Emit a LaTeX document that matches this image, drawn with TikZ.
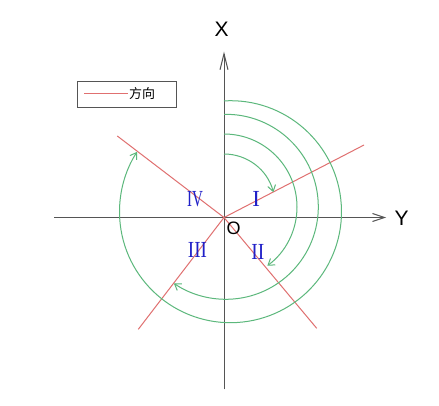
\documentclass[tikz,border=0pt]{standalone}
\usepackage{fontspec}
\usepackage{graphicx}
\setmainfont{Liberation Serif}
\setsansfont{Liberation Sans}
\newfontfamily\cjkfont{Noto Sans CJK SC}
\usetikzlibrary{arrows.meta}
\definecolor{axisgray}{HTML}{555555}
\definecolor{dirred}{HTML}{E07070}
\definecolor{arcgreen}{HTML}{5CB87C}
\definecolor{numblue}{HTML}{2020C8}
\begin{document}
\begin{tikzpicture}[x=1pt,y=1pt,
  axis/.style={draw=axisgray, line width=1pt},
  dirline/.style={draw=dirred, line width=1pt},
  turn/.style={draw=arcgreen, line width=1pt, -{Straight Barb[length=6pt,width=8pt,line width=1pt]}},
  numlabel/.style={text=numblue, inner sep=0pt, font=\fontsize{23}{23}\selectfont},
  axlabel/.style={inner sep=0pt, font=\sffamily\fontsize{21}{21}\selectfont}]
\fill[white] (0,0) rectangle (439,405);
\useasboundingbox (0,0) rectangle (439,405);

% axes
\coordinate (O) at (224,187.5);
\coordinate (xs) at (224,15.7);
\coordinate (xe) at (224,353.3);
\coordinate (ys) at (54,187.5);
\coordinate (ye) at (386,187.5);
\draw[axis,-{Straight Barb[length=16pt,width=8pt,line width=1pt]}] (xs) -- (xe);
\draw[axis,-{Straight Barb[length=12pt,width=8pt,line width=1pt]}] (ys) -- (ye);

% direction lines
\coordinate (d1) at (364,260);
\coordinate (d2) at (316.7,76.7);
\coordinate (d3) at (138.3,75.7);
\coordinate (d4) at (117.3,269);
\draw[dirline] (O) -- (d1);
\draw[dirline] (O) -- (d2);
\draw[dirline] (O) -- (d3);
\draw[dirline] (O) -- (d4);

% rotation arcs
\coordinate (c1) at (224,200);
\coordinate (c2) at (224,198);
\coordinate (c3) at (225.8,198.2);
\coordinate (c4) at (230.5,193.3);
\draw[turn] (c1) ++(90:51) arc[start angle=90,end angle=14.5,radius=51];
\draw[turn] (c2) ++(90:73) arc[start angle=90,end angle=-53.6,radius=73];
\draw[turn] (c3) ++(91.1:92.5) arc[start angle=91.1,end angle=-124.2,radius=92.5];
\draw[turn] (c4) ++(93.4:111) arc[start angle=93.4,end angle=-212.6,radius=111];

% labels
\node[axlabel] (Xl) at (221.7,376) {X};
\node[axlabel] (Yl) at (401.7,186.7) {Y};
\node[inner sep=0pt, font=\sffamily\fontsize{18}{18}\selectfont] (Ol) at (233.7,176.7) {O};
\node[numlabel] (q4) at (195,206.3) {\scalebox{0.65}[1]{IV}};
\node[numlabel] (q1) at (256.3,206.3) {I};
\node[numlabel] (q3) at (197.5,155) {\scalebox{0.83}[1]{III}};
\node[numlabel] (q2) at (257.8,153.3) {\scalebox{0.85}[1]{II}};

% legend
\node[draw=axisgray, line width=1pt, minimum width=98.7pt, minimum height=25.6pt, inner sep=0pt] (legend) at (126.65,310.5) {};
\coordinate (la) at (84,311.7);
\coordinate (lb) at (128.3,311.7);
\draw[dirline] (la) -- (lb);
\node[inner sep=0pt, font=\cjkfont\fontsize{13}{13}\selectfont] (lt) at (142,311.3) {方向};
\end{tikzpicture}
\end{document}
